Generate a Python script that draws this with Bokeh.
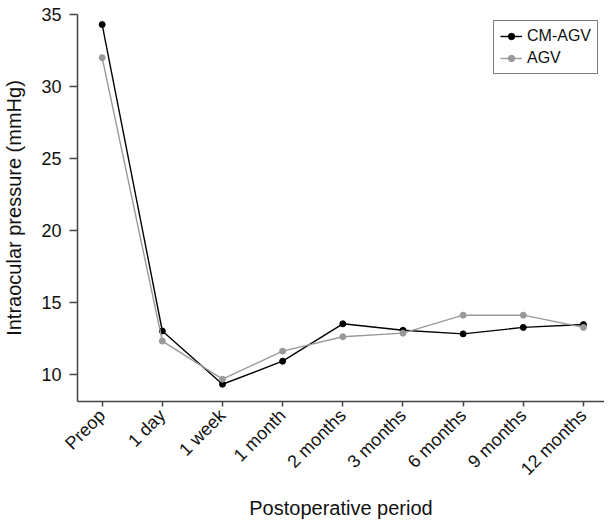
import math
from bokeh.plotting import figure
from bokeh.models import FixedTicker, Range1d, Legend, LegendItem
from bokeh.embed import file_html
from bokeh.resources import INLINE

categories = ["Preop", "1 day", "1 week", "1 month", "2 months", "3 months",
              "6 months", "9 months", "12 months"]
cm_agv = [34.3, 13.0, 9.3, 10.9, 13.5, 13.05, 12.8, 13.25, 13.45]
agv = [32.0, 12.3, 9.65, 11.6, 12.6, 12.85, 14.1, 14.1, 13.25]
y_ticks = [10, 15, 20, 25, 30, 35]

x = list(range(len(categories)))

FONT = "Liberation Sans"

p = figure(width=604, height=523, output_backend="svg", toolbar_location=None,
           x_range=Range1d(-0.41, 8.35), y_range=Range1d(8.1, 35.0),
           min_border_left=74, min_border_right=0, min_border_top=14,
           min_border_bottom=122)
p.outline_line_color = None
p.xgrid.visible = False
p.ygrid.visible = False

black = "#000000"
grey = "#999999"

l1 = p.line(x, cm_agv, line_color=black, line_width=1.4)
c1 = p.scatter(x, cm_agv, size=6, fill_color=black, line_color=black)
l2 = p.line(x, agv, line_color=grey, line_width=1.4)
c2 = p.scatter(x, agv, size=6, fill_color=grey, line_color=grey)

legend = Legend(items=[LegendItem(label="CM-AGV", renderers=[l1, c1]),
                       LegendItem(label="AGV", renderers=[l2, c2])],
                location="top_right")
legend.margin = 6
legend.border_line_color = "#000000"
legend.border_line_width = 1
legend.label_text_font = FONT
legend.label_text_font_size = "16px"
legend.label_text_color = "#111111"
legend.glyph_width = 22
legend.label_standoff = 5
legend.padding = 6
legend.spacing = 4
legend.label_height = 16
legend.glyph_height = 16
p.add_layout(legend)

p.xaxis.ticker = FixedTicker(ticks=x)
p.xaxis.major_label_overrides = {i: c for i, c in zip(x, categories)}
p.xaxis.major_label_orientation = math.pi / 4
p.yaxis.ticker = FixedTicker(ticks=y_ticks)

for ax in [p.xaxis[0], p.yaxis[0]]:
    ax.axis_line_color = "#444444"
    ax.axis_line_width = 1.5
    ax.major_tick_line_color = "#444444"
    ax.major_tick_line_width = 1.5
    ax.minor_tick_line_color = None
    ax.major_tick_in = 0
    ax.major_label_text_font = FONT
    ax.major_label_text_color = "#111111"
    ax.axis_label_text_font = FONT
    ax.axis_label_text_font_style = "normal"
    ax.axis_label_text_color = "#111111"
    ax.axis_label_text_font_size = "20px"

p.yaxis.major_tick_out = 8
p.xaxis.major_tick_out = 5
p.yaxis.major_label_text_font_size = "18px"
p.xaxis.major_label_text_font_size = "18px"
p.yaxis.major_label_standoff = 8
p.xaxis.major_label_standoff = 6
p.xaxis.axis_label = "Postoperative period"
p.yaxis.axis_label = "Intraocular pressure (mmHg)"
p.xaxis.axis_label_standoff = 8
p.yaxis.axis_label_standoff = 13

open("out.html", "w").write(file_html(p, INLINE))
